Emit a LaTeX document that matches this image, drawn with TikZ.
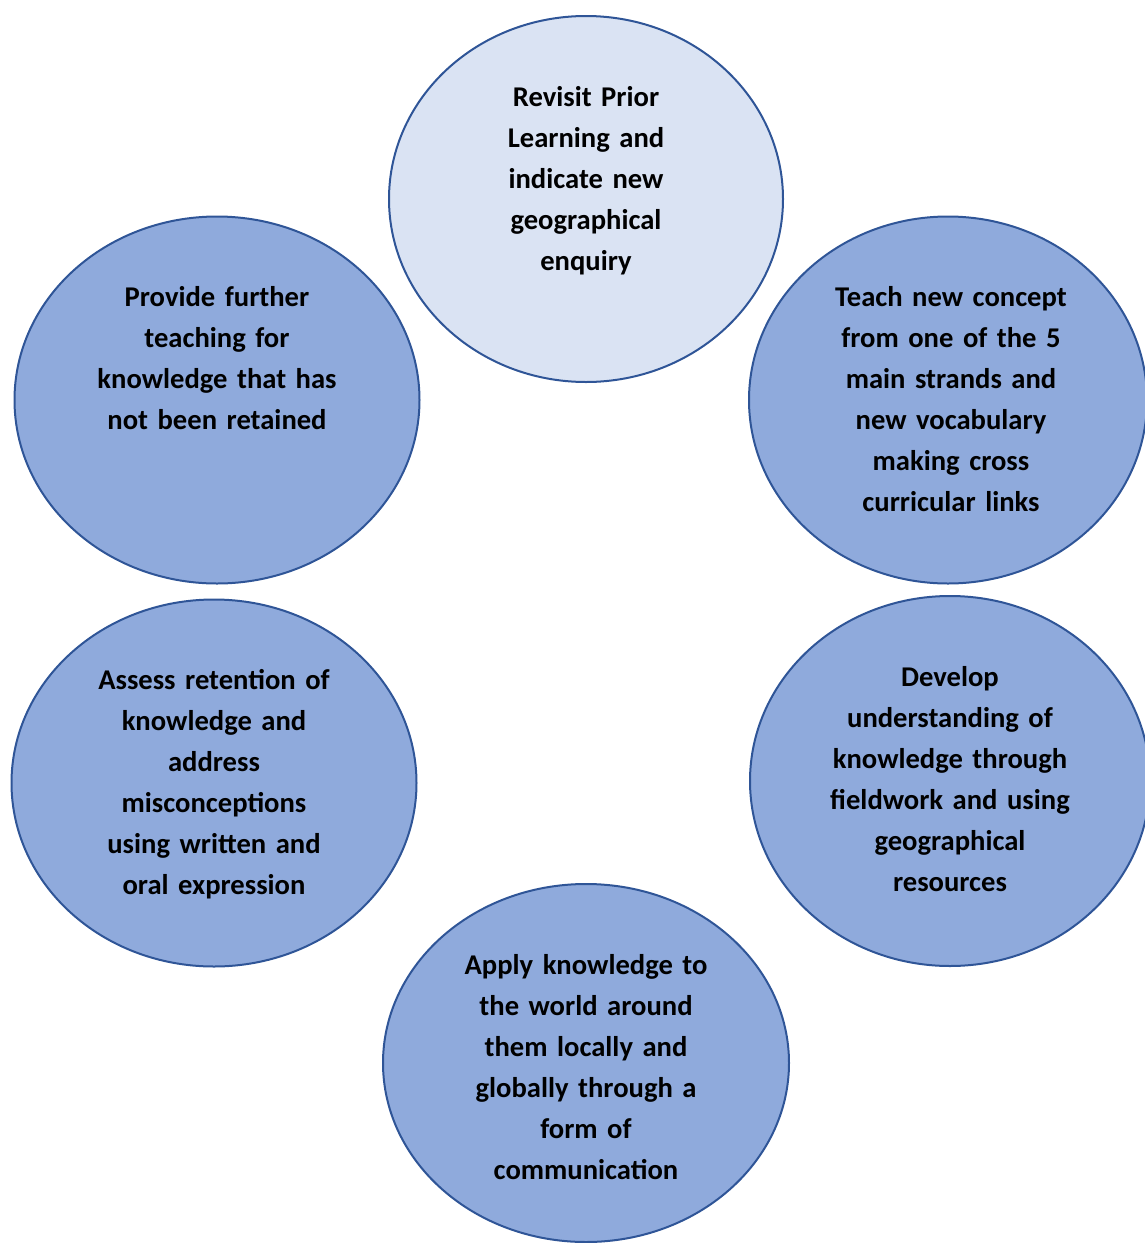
\documentclass[tikz,border=0pt]{standalone}
\usepackage{fontspec}
\setmainfont{Carlito}
\usetikzlibrary{shapes.geometric,positioning}
\definecolor{ringline}{HTML}{2F5597}
\definecolor{ringfill}{HTML}{8FAADC}
\definecolor{ringpale}{HTML}{DAE3F3}

\begin{document}
\begin{tikzpicture}[x=1pt, y=-1pt,
    stage/.style={ellipse, draw=ringline, line width=2pt, fill=ringfill, inner sep=0pt},
    words/.style={text width=280pt, align=center, inner sep=0pt,
                  font=\fontsize{28.6}{41}\selectfont\bfseries}]
    \useasboundingbox (0,0) rectangle (1145,1243);

    \node[stage, fill=ringpale, minimum width=394pt, minimum height=366pt] (revisit) at (586,199) {};
    \node[stage, minimum width=398pt, minimum height=367pt] (teach) at (948,400) {};
    \node[stage, minimum width=405pt, minimum height=367pt] (further) at (217,400) {};
    \node[stage, minimum width=405pt, minimum height=367pt] (assess) at (214,783) {};
    \node[stage, minimum width=400pt, minimum height=370pt] (develop) at (950,781) {};
    \node[stage, minimum width=406pt, minimum height=358pt] (apply) at (586,1063) {};

    \node[words, below=71pt of revisit.north] (revisittext)
        {Revisit Prior\\ Learning and\\ indicate new\\ geographical\\ enquiry};
    \node[words, below=71pt of teach.north, xshift=3pt] (teachtext)
        {Teach new concept\\ from one of the 5\\ main strands and\\ new vocabulary\\ making cross\\ curricular links};
    \node[words, below=71pt of further.north] (furthertext)
        {Provide further\\ teaching for\\ knowledge that has\\ not been retained};
    \node[words, below=71pt of assess.north] (assesstext)
        {Assess retention of\\ knowledge and\\ address\\ misconceptions\\ using written and\\ oral expression};
    \node[words, below=71pt of develop.north] (developtext)
        {Develop\\ understanding of\\ knowledge through\\ fieldwork and using\\ geographical\\ resources};
    \node[words, below=71pt of apply.north] (applytext)
        {Apply knowledge to\\ the world around\\ them locally and\\ globally through a\\ form of\\ communication};

\end{tikzpicture}
\end{document}
